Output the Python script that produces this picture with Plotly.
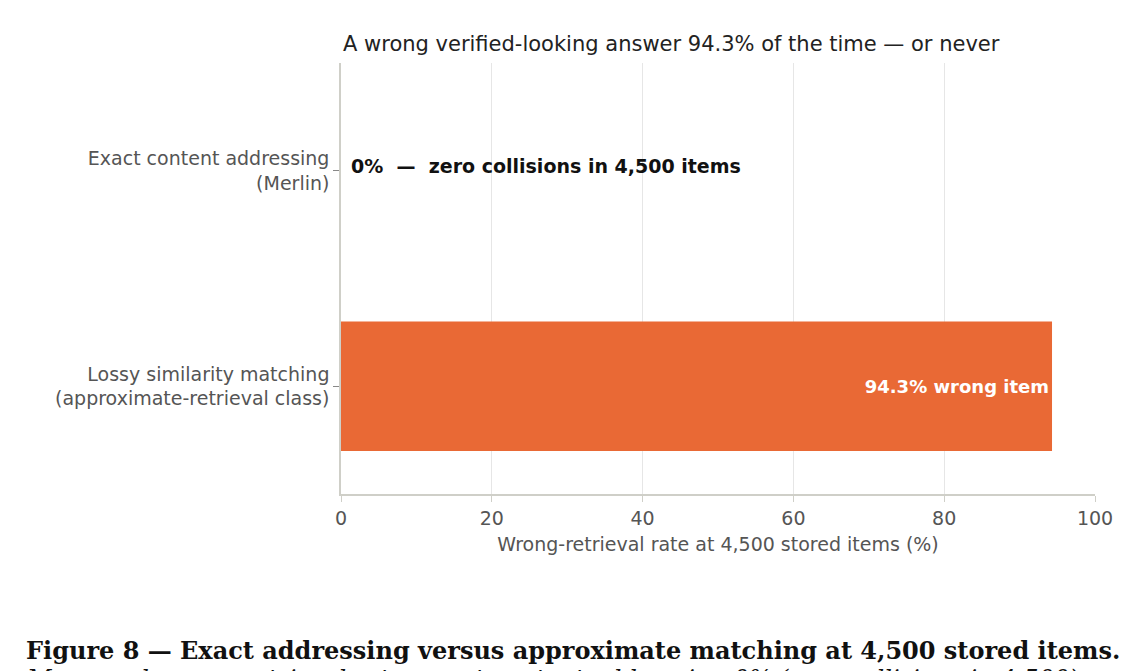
import plotly.graph_objects as go

categories = ["Lossy similarity matching<br>(approximate-retrieval class)", "Exact content addressing<br>(Merlin)"]
values = [94.3, 0.0]
bar_labels = ["<b>94.3% wrong item</b>", ""]
tick_vals = [0, 20, 40, 60, 80, 100]

fig = go.Figure()
fig.add_trace(go.Bar(
    y=categories, x=values, orientation="h", width=0.6,
    marker=dict(color="#E96935", line=dict(width=0)),
    text=bar_labels, textposition="inside", insidetextanchor="end",
    textfont=dict(color="white", size=18, family="DejaVu Sans"),
    hoverinfo="skip"))
fig.add_annotation(x=0, y=categories[1], xref="x", yref="y",
    text="<b>0%  —  zero collisions in 4,500 items</b>", showarrow=False,
    xanchor="left", xshift=8, yshift=5, font=dict(size=19, color="#111", family="DejaVu Sans"))
fig.add_annotation(x=-318/756, y=-0.362, xref="paper", yref="paper", xanchor="left", yanchor="middle",
    text="<b>Figure 8 — Exact addressing versus approximate matching at 4,500 stored items.</b>",
    showarrow=False, font=dict(size=24, family="DejaVu Serif", color="#111"))
fig.add_annotation(x=-318/756, y=-0.43, xref="paper", yref="paper", xanchor="left", yanchor="middle",
    text="<i>Measured wrong-retrieval rate: exact content addressing 0% (zero collisions in 4,500)</i>",
    showarrow=False, font=dict(size=24, family="DejaVu Serif", color="#111"))

fig.update_layout(
    width=1135, height=671, plot_bgcolor="white", paper_bgcolor="white",
    margin=dict(l=333, r=48, t=55, b=185),
    title=dict(text="A wrong verified-looking answer 94.3% of the time — or never",
               x=335/1135, xanchor="left", y=1-36/671, yanchor="middle",
               font=dict(size=21, color="#222", family="DejaVu Sans")),
    xaxis=dict(range=[0, 100], tickvals=tick_vals, showgrid=True, gridcolor="#E6E6E6",
               zeroline=False, showline=True, linecolor="#CFCFC8", linewidth=1.5,
               ticks="outside", ticklen=6, tickcolor="#CFCFC8",
               tickfont=dict(size=19, color="#555", family="DejaVu Sans"),
               title=dict(text="Wrong-retrieval rate at 4,500 stored items (%)", standoff=10,
                          font=dict(size=19, color="#555", family="DejaVu Sans"))),
    yaxis=dict(showline=True, linecolor="#CFCFC8", linewidth=1.5, ticks="outside", ticklen=6,
               tickcolor="#888", showgrid=False,
               tickfont=dict(size=19, color="#555", family="DejaVu Sans")),
    showlegend=False, bargap=0.4,
)
fig.write_html("out.html")
